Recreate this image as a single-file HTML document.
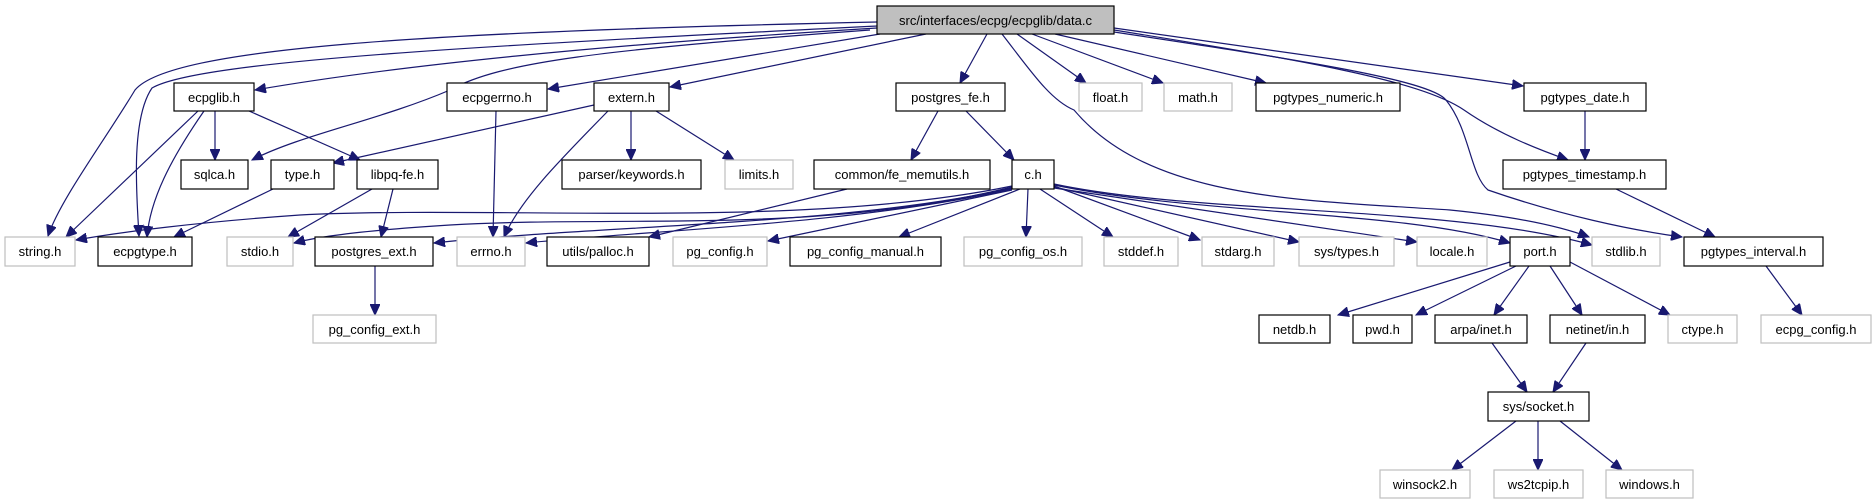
<!DOCTYPE html>
<html><head><meta charset="utf-8"><style>
html,body{margin:0;padding:0;background:#fff;}
svg{display:block;}
text{font-family:"Liberation Sans",sans-serif;font-size:13px;fill:#000;text-anchor:middle;}
.e{fill:none;stroke:#191970;stroke-width:1.2;marker-end:url(#a);}
.b{fill:#fff;stroke:#000;stroke-width:1.2;}
.g{fill:#fff;stroke:#bfbfbf;stroke-width:1.2;}
</style></head><body>
<svg width="1876" height="504" viewBox="0 0 1876 504" xmlns="http://www.w3.org/2000/svg">
<defs><marker id="a" markerUnits="userSpaceOnUse" markerWidth="12" markerHeight="10" refX="11" refY="5" orient="auto"><path d="M0,0 L11,5 L0,10 z" fill="#191970" stroke="#191970"/></marker></defs>
<!-- edges -->
<path class="e" d="M877,22 C420,32 170,48 135,90 C105,140 60,200 48,236"/>
<path class="e" d="M877,26 C500,45 200,60 152,88 C130,120 137,200 139,236"/>
<path class="e" d="M870,30 C600,50 500,62 450,90 C380,120 300,135 252,160"/>
<path class="e" d="M877,28 C600,45 400,65 255,90"/>
<path class="e" d="M880,34 L548,89"/>
<path class="e" d="M926,34 L670,87"/>
<path class="e" d="M987,34 L960,83"/>
<path class="e" d="M1017,34 L1086,83"/>
<path class="e" d="M1032,34 L1163,83"/>
<path class="e" d="M1055,34 L1266,83"/>
<path class="e" d="M1114,28 L1523,86"/>
<path class="e" d="M1114,30 C1300,60 1420,80 1464,110 C1500,135 1540,150 1568,160"/>
<path class="e" d="M1114,32 C1300,60 1430,80 1446,100 C1470,130 1470,175 1488,190 C1560,215 1630,230 1682,237"/>
<path class="e" d="M1002,34 C1030,70 1050,100 1074,110 C1150,200 1300,200 1450,210 C1530,218 1570,230 1589,237"/>
<path class="e" d="M215,111 L215,160"/>
<path class="e" d="M198,111 L66,237"/>
<path class="e" d="M204,111 C170,160 150,200 147,237"/>
<path class="e" d="M249,111 L360,160"/>
<path class="e" d="M496,111 L493,237"/>
<path class="e" d="M594,105 L333,163"/>
<path class="e" d="M608,111 C560,160 520,200 504,237"/>
<path class="e" d="M631,111 L631,160"/>
<path class="e" d="M656,111 L734,160"/>
<path class="e" d="M273,189 L174,237"/>
<path class="e" d="M372,189 L288,237"/>
<path class="e" d="M393,189 L381,237"/>
<path class="e" d="M375,266 L375,315"/>
<path class="e" d="M938,111 L911,160"/>
<path class="e" d="M966,111 L1014,160"/>
<path class="e" d="M847,189 L649,237"/>
<path class="e" d="M1012,186 C800,230 500,205 300,215 C200,222 120,232 76,240"/>
<path class="e" d="M1012,187 C820,235 620,215 450,225 C370,230 320,236 294,243"/>
<path class="e" d="M1012,188 C850,225 600,225 434,243"/>
<path class="e" d="M1012,189 C850,225 650,230 526,243"/>
<path class="e" d="M1012,190 L768,241"/>
<path class="e" d="M1020,189 L899,237"/>
<path class="e" d="M1028,189 L1026,237"/>
<path class="e" d="M1040,189 L1113,237"/>
<path class="e" d="M1054,186 L1200,240"/>
<path class="e" d="M1054,187 L1299,242"/>
<path class="e" d="M1054,188 L1417,242"/>
<path class="e" d="M1054,185 C1200,215 1400,210 1510,243"/>
<path class="e" d="M1054,184 C1200,215 1450,205 1592,245"/>
<path class="e" d="M1585,111 L1585,160"/>
<path class="e" d="M1616,189 L1715,237"/>
<path class="e" d="M1766,266 L1802,315"/>
<path class="e" d="M1510,262 L1338,315"/>
<path class="e" d="M1516,266 L1416,315"/>
<path class="e" d="M1529,266 L1494,315"/>
<path class="e" d="M1550,266 L1582,315"/>
<path class="e" d="M1570,262 L1670,315"/>
<path class="e" d="M1492,343 L1527,392"/>
<path class="e" d="M1586,343 L1553,392"/>
<path class="e" d="M1516,421 L1452,470"/>
<path class="e" d="M1538,421 L1538,470"/>
<path class="e" d="M1560,421 L1622,470"/>
<!-- nodes -->
<rect x="877" y="6" width="237" height="28" fill="#bfbfbf" stroke="#000" stroke-width="1.2"/><text x="995.5" y="25">src/interfaces/ecpg/ecpglib/data.c</text>

<rect class="b" x="174" y="83" width="80" height="28"/><text x="214" y="102">ecpglib.h</text>
<rect class="b" x="447" y="83" width="100" height="28"/><text x="497" y="102">ecpgerrno.h</text>
<rect class="b" x="594" y="83" width="75" height="28"/><text x="631.5" y="102">extern.h</text>
<rect class="b" x="896" y="83" width="109" height="28"/><text x="950.5" y="102">postgres_fe.h</text>
<rect class="g" x="1079" y="83" width="63" height="28"/><text x="1110.5" y="102">float.h</text>
<rect class="g" x="1164" y="83" width="68" height="28"/><text x="1198" y="102">math.h</text>
<rect class="b" x="1256" y="83" width="144" height="28"/><text x="1328" y="102">pgtypes_numeric.h</text>
<rect class="b" x="1524" y="83" width="122" height="28"/><text x="1585" y="102">pgtypes_date.h</text>

<rect class="b" x="181" y="160" width="67" height="29"/><text x="214.5" y="179">sqlca.h</text>
<rect class="b" x="271" y="160" width="63" height="29"/><text x="302.5" y="179">type.h</text>
<rect class="b" x="357" y="160" width="81" height="29"/><text x="397.5" y="179">libpq-fe.h</text>
<rect class="b" x="562" y="160" width="139" height="29"/><text x="631.5" y="179">parser/keywords.h</text>
<rect class="g" x="725" y="160" width="68" height="29"/><text x="759" y="179">limits.h</text>
<rect class="b" x="814" y="160" width="176" height="29"/><text x="902" y="179">common/fe_memutils.h</text>
<rect class="b" x="1012" y="160" width="42" height="29"/><text x="1033" y="179">c.h</text>
<rect class="b" x="1503" y="160" width="163" height="29"/><text x="1584.5" y="179">pgtypes_timestamp.h</text>

<rect class="g" x="5" y="237" width="70" height="29"/><text x="40" y="256">string.h</text>
<rect class="b" x="98" y="237" width="94" height="29"/><text x="145" y="256">ecpgtype.h</text>
<rect class="g" x="227" y="237" width="66" height="29"/><text x="260" y="256">stdio.h</text>
<rect class="b" x="315" y="237" width="118" height="29"/><text x="374" y="256">postgres_ext.h</text>
<rect class="g" x="457" y="237" width="68" height="29"/><text x="491" y="256">errno.h</text>
<rect class="b" x="547" y="237" width="102" height="29"/><text x="598" y="256">utils/palloc.h</text>
<rect class="g" x="673" y="237" width="94" height="29"/><text x="720" y="256">pg_config.h</text>
<rect class="b" x="790" y="237" width="151" height="29"/><text x="865.5" y="256">pg_config_manual.h</text>
<rect class="g" x="964" y="237" width="118" height="29"/><text x="1023" y="256">pg_config_os.h</text>
<rect class="g" x="1104" y="237" width="74" height="29"/><text x="1141" y="256">stddef.h</text>
<rect class="g" x="1202" y="237" width="72" height="29"/><text x="1238" y="256">stdarg.h</text>
<rect class="g" x="1299" y="237" width="95" height="29"/><text x="1346.5" y="256">sys/types.h</text>
<rect class="g" x="1417" y="237" width="70" height="29"/><text x="1452" y="256">locale.h</text>
<rect class="b" x="1510" y="237" width="60" height="29"/><text x="1540" y="256">port.h</text>
<rect class="g" x="1592" y="237" width="68" height="29"/><text x="1626" y="256">stdlib.h</text>
<rect class="b" x="1684" y="237" width="139" height="29"/><text x="1753.5" y="256">pgtypes_interval.h</text>

<rect class="g" x="313" y="315" width="123" height="28"/><text x="374.5" y="334">pg_config_ext.h</text>
<rect class="b" x="1259" y="315" width="71" height="28"/><text x="1294.5" y="334">netdb.h</text>
<rect class="b" x="1353" y="315" width="59" height="28"/><text x="1382.5" y="334">pwd.h</text>
<rect class="b" x="1435" y="315" width="92" height="28"/><text x="1481" y="334">arpa/inet.h</text>
<rect class="b" x="1550" y="315" width="95" height="28"/><text x="1597.5" y="334">netinet/in.h</text>
<rect class="g" x="1668" y="315" width="69" height="28"/><text x="1702.5" y="334">ctype.h</text>
<rect class="g" x="1761" y="315" width="110" height="28"/><text x="1816" y="334">ecpg_config.h</text>

<rect class="b" x="1488" y="392" width="101" height="29"/><text x="1538.5" y="411">sys/socket.h</text>

<rect class="g" x="1380" y="470" width="90" height="28"/><text x="1425" y="489">winsock2.h</text>
<rect class="g" x="1494" y="470" width="89" height="28"/><text x="1538.5" y="489">ws2tcpip.h</text>
<rect class="g" x="1606" y="470" width="87" height="28"/><text x="1649.5" y="489">windows.h</text>
</svg>
</body></html>
